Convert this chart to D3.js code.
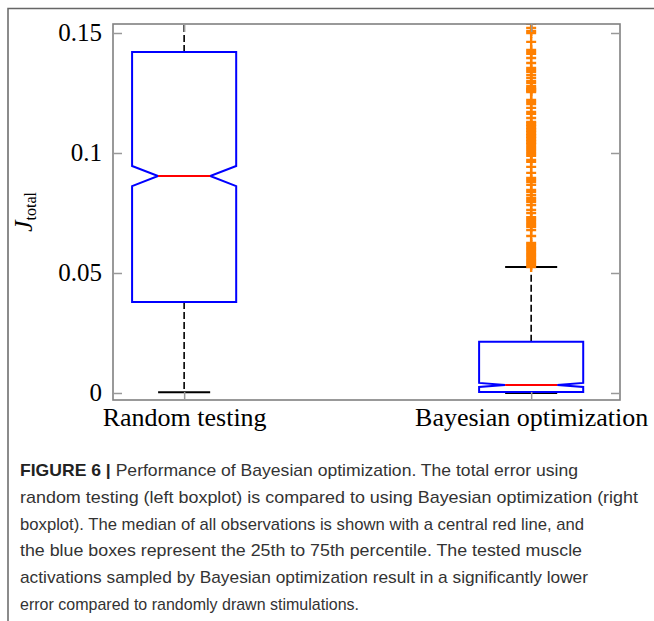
<!DOCTYPE html>
<html>
<head>
<meta charset="utf-8">
<script src="https://cdn.jsdelivr.net/npm/d3@7"></script>
<style>
  body { margin: 0; background: #fff; }
</style>
</head>
<body>
<script>
// categories and box statistics
let categories = ["Random testing", "Bayesian optimization"];
let q1 = [0.0379, 0.0004];
let median = [0.0904, 0.0033];
let q3 = [0.1421, 0.0213];
let whiskerLow = [0.0003, 0.0000];
let whiskerHigh = [0.1990, 0.0525];
let notchLow = [0.0862, 0.0025];
let notchHigh = [0.0946, 0.0042];
// outliers of the Bayesian optimization box
let outliers = [
  0.1538, 0.1521, 0.1508, 0.1500, 0.1463, 0.1429, 0.1421, 0.1413, 0.1396, 0.1375,
  0.1354, 0.1346, 0.1338, 0.1325, 0.1313, 0.1300, 0.1292, 0.1279, 0.1271, 0.1267,
  0.1263, 0.1258, 0.1254, 0.1221, 0.1213, 0.1204, 0.1188, 0.1171, 0.1163, 0.1146,
  0.1129, 0.1125, 0.1117, 0.1113, 0.1104, 0.1100, 0.1092, 0.1088, 0.1079, 0.1075,
  0.1067, 0.1063, 0.1054, 0.1050, 0.1042, 0.1038, 0.1029, 0.1021, 0.1013, 0.1004,
  0.0996, 0.0988, 0.0971, 0.0963, 0.0942, 0.0917, 0.0896, 0.0888, 0.0879, 0.0867,
  0.0846, 0.0838, 0.0825, 0.0813, 0.0804, 0.0796, 0.0783, 0.0763, 0.0750, 0.0733,
  0.0725, 0.0717, 0.0708, 0.0700, 0.0692, 0.0679, 0.0654, 0.0625, 0.0617, 0.0608,
  0.0600, 0.0592, 0.0583, 0.0575, 0.0567, 0.0558, 0.0550, 0.0542, 0.0533, 0.0525
];
let yTicks = [0, 0.05, 0.1, 0.15];
let yTickLabels = ["0", "0.05", "0.1", "0.15"];
let captionLines = [
  "Performance of Bayesian optimization. The total error using",
  "random testing (left boxplot) is compared to using Bayesian optimization (right",
  "boxplot). The median of all observations is shown with a central red line, and",
  "the blue boxes represent the 25th to 75th percentile. The tested muscle",
  "activations sampled by Bayesian optimization result in a significantly lower",
  "error compared to randomly drawn stimulations."
];
let captionWidths = [558, 618, 564, 562, 568, 339];

let width = 654, height = 621;
let plot = { left: 113, top: 24, right: 620, bottom: 400 };

let svg = d3.select("body").append("svg")
  .attr("width", width)
  .attr("height", height);

// figure frame
svg.append("path")
  .attr("d", `M8,${height} V8.5 H${width}`)
  .attr("fill", "none")
  .attr("stroke", "#666")
  .attr("stroke-width", 1.5);

// scales
let xScale = d3.scaleLinear().domain([0.795, 2.256]).range([plot.left, plot.right]);
let yScale = d3.scaleLinear().domain([-0.00292, 0.15375]).range([plot.bottom, plot.top]);
let boxHalf = 0.15, notchHalf = 0.075, capHalf = 0.075;

svg.append("clipPath").attr("id", "clip")
  .append("rect")
  .attr("x", plot.left).attr("y", plot.top)
  .attr("width", plot.right - plot.left).attr("height", plot.bottom - plot.top);

let container = svg.append("g").attr("clip-path", "url(#clip)");

let boxes = categories.map((c, i) => ({
  pos: i + 1, q1: q1[i], med: median[i], q3: q3[i],
  lo: whiskerLow[i], hi: whiskerHigh[i], nLo: notchLow[i], nHi: notchHigh[i]
}));

// whiskers
container.selectAll("line.whisker-up").data(boxes).join("line")
  .attr("x1", d => xScale(d.pos)).attr("x2", d => xScale(d.pos))
  .attr("y1", d => yScale(d.q3)).attr("y2", d => yScale(d.hi))
  .attr("stroke", "black").attr("stroke-width", 1.6).attr("stroke-dasharray", "7,3");
container.selectAll("line.whisker-down").data(boxes).join("line")
  .attr("x1", d => xScale(d.pos)).attr("x2", d => xScale(d.pos))
  .attr("y1", d => yScale(d.q1)).attr("y2", d => yScale(d.lo))
  .attr("stroke", "black").attr("stroke-width", 1.6).attr("stroke-dasharray", "7,3");

// caps
["lo", "hi"].forEach(k => {
  container.selectAll("line.cap-" + k).data(boxes).join("line")
    .attr("x1", d => xScale(d.pos - capHalf)).attr("x2", d => xScale(d.pos + capHalf))
    .attr("y1", d => yScale(d[k])).attr("y2", d => yScale(d[k]))
    .attr("stroke", "black").attr("stroke-width", 2);
});

// notched boxes
container.selectAll("path.box").data(boxes).join("path")
  .attr("d", d => {
    let xl = xScale(d.pos - boxHalf), xr = xScale(d.pos + boxHalf);
    let nl = xScale(d.pos - notchHalf), nr = xScale(d.pos + notchHalf);
    return `M${xl},${yScale(d.q1)}L${xr},${yScale(d.q1)}L${xr},${yScale(d.nLo)}` +
      `L${nr},${yScale(d.med)}L${xr},${yScale(d.nHi)}L${xr},${yScale(d.q3)}` +
      `L${xl},${yScale(d.q3)}L${xl},${yScale(d.nHi)}L${nl},${yScale(d.med)}` +
      `L${xl},${yScale(d.nLo)}Z`;
  })
  .attr("fill", "none").attr("stroke", "#0000ff").attr("stroke-width", 2);

// medians
container.selectAll("line.median").data(boxes).join("line")
  .attr("x1", d => xScale(d.pos - notchHalf)).attr("x2", d => xScale(d.pos + notchHalf))
  .attr("y1", d => yScale(d.med)).attr("y2", d => yScale(d.med))
  .attr("stroke", "#ff0000").attr("stroke-width", 2);

// outliers as '+' markers
container.selectAll("path.outlier").data(outliers).join("path")
  .attr("d", d => {
    let cx = xScale(2), cy = yScale(d);
    return `M${cx - 5},${cy}h10M${cx},${cy - 5}v10`;
  })
  .attr("stroke", "#ff8000").attr("stroke-width", 2.4).attr("fill", "none");

// frame of the axes
svg.append("rect")
  .attr("x", plot.left).attr("y", plot.top)
  .attr("width", plot.right - plot.left).attr("height", plot.bottom - plot.top)
  .attr("fill", "none").attr("stroke", "#808080").attr("stroke-width", 1.6);

// axes
let styleAxis = g => {
  g.select(".domain").remove();
  g.selectAll(".tick line").attr("stroke", "#999").attr("stroke-width", 1.5);
  g.selectAll(".tick text").attr("fill", "black")
    .style("font-family", "'Liberation Serif', 'DejaVu Serif', serif");
};
svg.append("g").attr("transform", `translate(${plot.left},0)`)
  .call(d3.axisLeft(yScale).tickValues(yTicks).tickSize(-9).tickPadding(11)
    .tickFormat((d, i) => yTickLabels[i]))
  .call(styleAxis)
  .selectAll("text").style("font-size", "25px");
svg.append("g").attr("transform", `translate(${plot.right},0)`)
  .call(d3.axisRight(yScale).tickValues(yTicks).tickSize(-9).tickFormat(""))
  .call(styleAxis);
svg.append("g").attr("transform", `translate(0,${plot.bottom})`)
  .call(d3.axisBottom(xScale).tickValues([1, 2]).tickSize(-8).tickPadding(8)
    .tickFormat((d, i) => categories[i]))
  .call(styleAxis)
  .selectAll("text").style("font-size", "26px");
svg.append("g").attr("transform", `translate(0,${plot.top})`)
  .call(d3.axisTop(xScale).tickValues([1, 2]).tickSize(-8).tickFormat(""))
  .call(styleAxis);

// y label J_total
let yLabel = svg.append("text")
  .attr("transform", `translate(32, ${(plot.top + plot.bottom) / 2}) rotate(-90)`)
  .attr("text-anchor", "middle")
  .style("font-family", "'Liberation Serif', 'DejaVu Serif', serif");
yLabel.append("tspan").text("J").style("font-style", "italic").style("font-size", "26px");
yLabel.append("tspan").text("total").attr("dy", 4).style("font-size", "16px");

// caption
let caption = svg.append("g")
  .style("font-family", "'Liberation Sans', Arial, sans-serif")
  .style("font-size", "17px")
  .attr("fill", "#333");
caption.selectAll("text").data(captionLines).join("text")
  .attr("x", 20)
  .attr("y", (d, i) => 476 + i * 26.8)
  .attr("textLength", (d, i) => captionWidths[i])
  .attr("lengthAdjust", "spacingAndGlyphs")
  .each(function(d, i) {
    let t = d3.select(this);
    if (i === 0) {
      t.append("tspan").text("FIGURE 6 | ").style("font-weight", "bold").attr("fill", "#222");
    }
    t.append("tspan").text(d);
  });
</script>
</body>
</html>
